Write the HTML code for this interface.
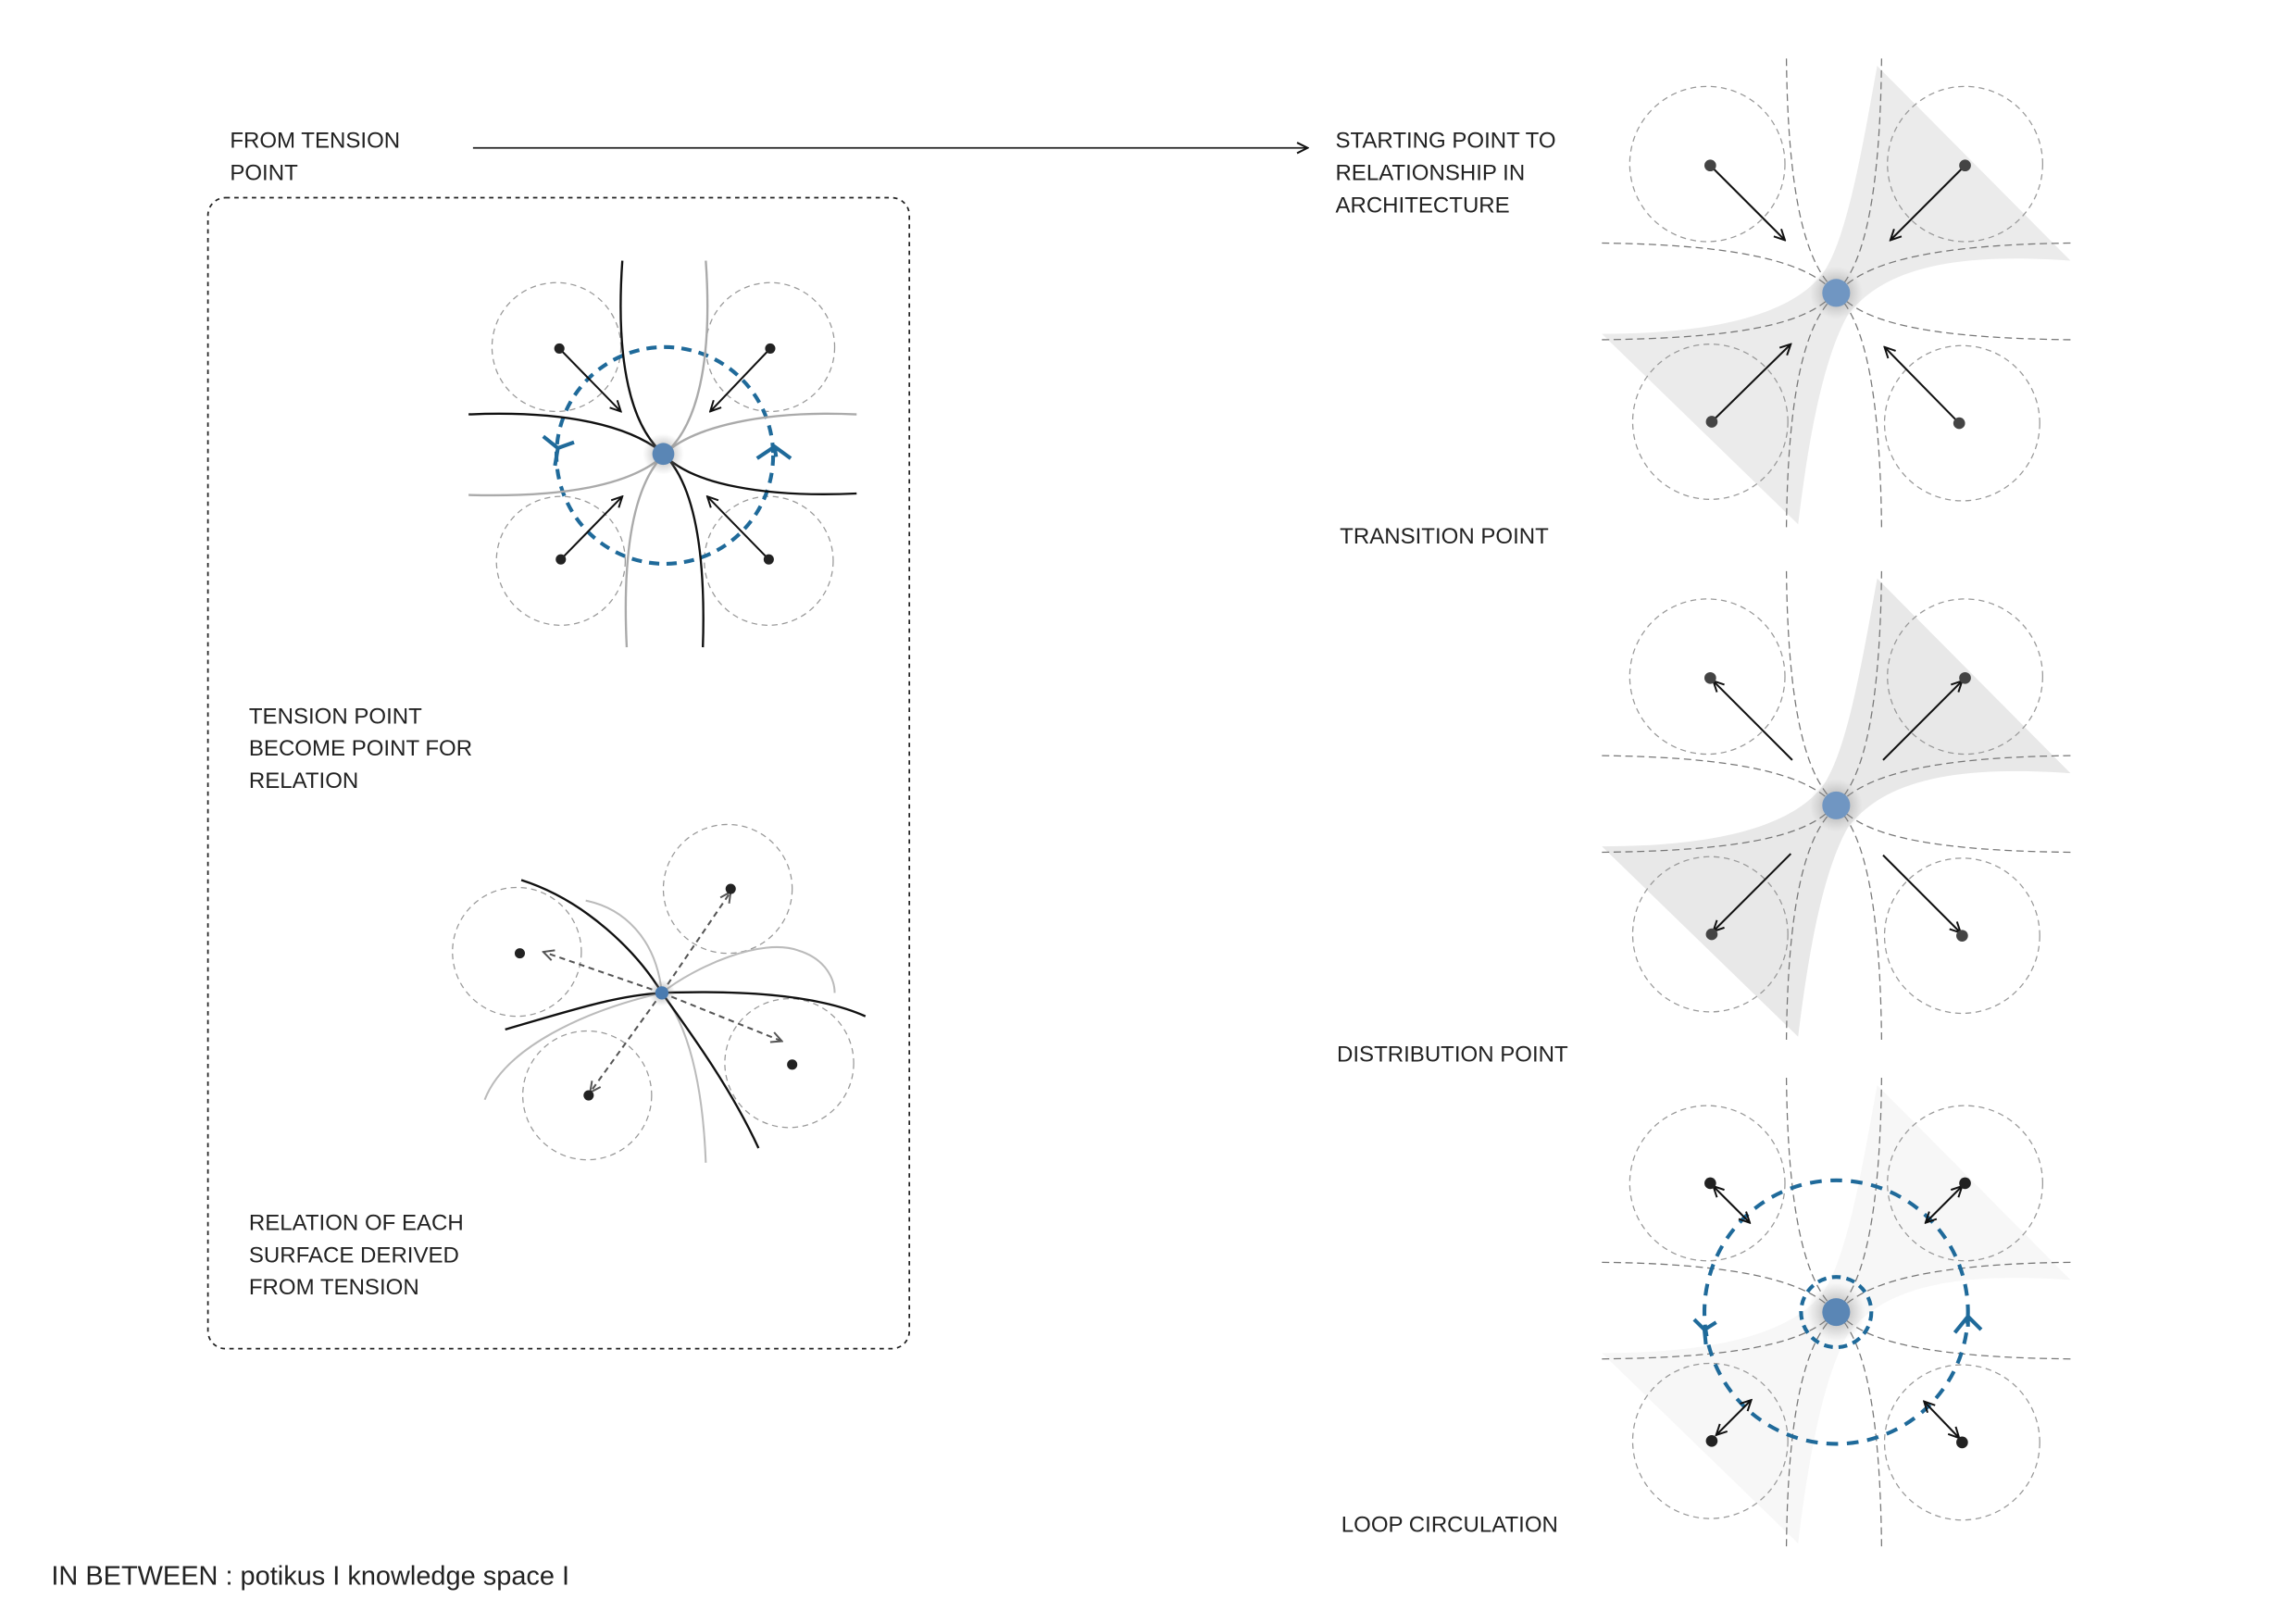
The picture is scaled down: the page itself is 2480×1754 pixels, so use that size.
<!DOCTYPE html>
<html><head><meta charset="utf-8"><style>
html,body{margin:0;padding:0;background:#fff;}
svg{display:block;}
text{font-family:"Liberation Sans",sans-serif;fill:#222;}
</style></head><body>
<svg width="2480" height="1754" viewBox="0 0 1568 1109" xmlns="http://www.w3.org/2000/svg">
<defs>
<marker id="ah" viewBox="0 0 10 10" refX="9" refY="5" markerWidth="9" markerHeight="9" markerUnits="userSpaceOnUse" orient="auto-start-reverse">
<path d="M1,1 L9,5 L1,9" fill="none" stroke="#111" stroke-width="1.4"/></marker>
<marker id="ahg" viewBox="0 0 10 10" refX="9" refY="5" markerWidth="9" markerHeight="9" markerUnits="userSpaceOnUse" orient="auto">
<path d="M1,1 L9,5 L1,9" fill="none" stroke="#555" stroke-width="1.4"/></marker>
<radialGradient id="glow"><stop offset="0" stop-color="#777" stop-opacity="0.7"/><stop offset="1" stop-color="#999" stop-opacity="0"/></radialGradient>
<g id="circ" fill="none" stroke="#999" stroke-width="0.8" stroke-dasharray="4 3">
<circle cx="-88" cy="-88" r="53"/><circle cx="88" cy="-88" r="53"/><circle cx="-86" cy="88" r="53"/><circle cx="86" cy="89" r="53"/>
</g>
<g id="dl" fill="none" stroke="#777" stroke-width="0.8" stroke-dasharray="5 3">
<path d="M-34,-160 C-33,-70 -22,-25 -4,-5"/><path d="M-34,160 C-33,70 -22,25 -4,5"/>
<path d="M31,-160 C30,-70 20,-25 4,-5"/><path d="M31,160 C30,70 20,25 4,5"/>
<path d="M-160,-34 C-70,-33 -25,-22 -5,-4"/><path d="M160,-34 C70,-33 25,-22 5,-4"/>
<path d="M-160,32 C-70,31 -25,22 -5,4"/><path d="M160,32 C70,31 25,22 5,4"/>
</g>
<path id="shape" d="M28,-155 L160,-22 C76,-28 31,-15 8,15 C-9,45 -19,100 -26,158 L-160,28 C-84,28 -29,15 -8,-15 C8,-40 18,-100 28,-155 Z"/>
</defs>

<g font-size="15.2">
<text x="157" y="101">FROM TENSION</text>
<text x="157" y="123">POINT</text>
<text x="912" y="101">STARTING POINT TO</text>
<text x="912" y="123">RELATIONSHIP IN</text>
<text x="912" y="145">ARCHITECTURE</text>
<text x="915" y="371">TRANSITION POINT</text>
<text x="913" y="725">DISTRIBUTION POINT</text>
<text x="916" y="1046">LOOP CIRCULATION</text>
<text x="170" y="494">TENSION POINT</text>
<text x="170" y="516">BECOME POINT FOR</text>
<text x="170" y="538">RELATION</text>
<text x="170" y="840">RELATION OF EACH</text>
<text x="170" y="862">SURFACE DERIVED</text>
<text x="170" y="884">FROM TENSION</text>
</g>
<line x1="323" y1="101" x2="893" y2="101" stroke="#222" stroke-width="1.1" marker-end="url(#ah)"/>
<text x="35" y="1082" font-size="18.3">IN BETWEEN : potikus I knowledge space I</text>

<rect x="142" y="135" width="479" height="786" rx="12" fill="none" stroke="#222" stroke-width="1.1" stroke-dasharray="3 3"/>

<!-- Left diagram 1 -->
<g>
<g fill="none" stroke="#999" stroke-width="0.8" stroke-dasharray="4 3">
<circle cx="380" cy="237" r="44"/><circle cx="526" cy="237" r="44"/><circle cx="383" cy="383" r="44"/><circle cx="525" cy="383" r="44"/>
</g>
<circle cx="454" cy="311" r="74" fill="none" stroke="#1f6a9a" stroke-width="2.6" stroke-dasharray="7 5"/>
<g fill="none" stroke-width="1.5">
<path d="M425,178 C420,250 432,290 451,308" stroke="#111"/>
<path d="M482,178 C487,250 475,290 456,308" stroke="#aaa"/>
<path d="M320,283 C390,280 430,292 451,308" stroke="#111"/>
<path d="M585,283 C520,280 475,292 456,308" stroke="#aaa"/>
<path d="M320,338 C390,340 430,330 451,313" stroke="#aaa"/>
<path d="M585,337 C520,340 475,330 456,313" stroke="#111"/>
<path d="M428,442 C425,380 432,335 451,313" stroke="#aaa"/>
<path d="M480,442 C482,380 475,335 456,313" stroke="#111"/>
</g>
<g stroke="#111" stroke-width="1.3">
<line x1="382" y1="238" x2="424" y2="281" marker-end="url(#ah)"/>
<line x1="526" y1="238" x2="485" y2="281" marker-end="url(#ah)"/>
<line x1="383" y1="382" x2="425" y2="339" marker-end="url(#ah)"/>
<line x1="525" y1="382" x2="483" y2="339" marker-end="url(#ah)"/>
</g>
<g fill="#222"><circle cx="382" cy="238" r="3.5"/><circle cx="526" cy="238" r="3.5"/><circle cx="383" cy="382" r="3.5"/><circle cx="525" cy="382" r="3.5"/></g>
<g fill="none" stroke="#1f6a9a" stroke-width="2.6">
<path d="M371,298 L381,306 L379,318 M381,306 L392,302"/>
<path d="M517,313 L529,305 L540,313 M529,305 L530,312"/>
</g>
<circle cx="453" cy="310" r="14" fill="url(#glow)"/>
<circle cx="453" cy="310" r="7.5" fill="#5a86b5"/>
</g>

<!-- Left diagram 2 -->
<g>
<g fill="none" stroke="#999" stroke-width="0.8" stroke-dasharray="4 3">
<circle cx="353" cy="650" r="44"/><circle cx="497" cy="607" r="44"/><circle cx="401" cy="748" r="44"/><circle cx="539" cy="726" r="44"/>
</g>
<g fill="none" stroke="#bbb" stroke-width="1.3">
<path d="M400,615 C425,620 448,640 452,678"/>
<path d="M452,678 C475,660 520,640 545,649 C565,655 570,670 570,678"/>
<path d="M331,751 C345,715 400,690 452,678"/>
<path d="M452,678 C470,700 480,740 482,794"/>
</g>
<g fill="none" stroke="#111" stroke-width="1.5">
<path d="M356,601 C400,615 435,650 452,678 C475,710 500,745 518,784"/>
<path d="M345,703 C390,690 420,680 452,678 C510,676 560,680 591,694"/>
</g>
<g stroke="#555" stroke-width="1.3" stroke-dasharray="4 3" fill="none">
<line x1="452" y1="678" x2="371" y2="650" marker-end="url(#ahg)"/>
<line x1="452" y1="678" x2="499" y2="609" marker-end="url(#ahg)"/>
<line x1="452" y1="678" x2="403" y2="746" marker-end="url(#ahg)"/>
<line x1="452" y1="678" x2="534" y2="711" marker-end="url(#ahg)"/>
</g>
<g fill="#222"><circle cx="355" cy="651" r="3.5"/><circle cx="499" cy="607" r="3.5"/><circle cx="402" cy="748" r="3.5"/><circle cx="541" cy="727" r="3.5"/></g>
<circle cx="452" cy="678" r="9" fill="url(#glow)"/>
<circle cx="452" cy="678" r="4.5" fill="#4a7bb0"/>
</g>

<!-- Right 1: transition -->
<g transform="translate(1254,200)">
<use href="#shape" fill="#ebebeb"/>
<use href="#circ"/><use href="#dl"/>
<g stroke="#111" stroke-width="1.3">
<line x1="-86" y1="-87" x2="-35" y2="-36" marker-end="url(#ah)"/>
<line x1="88" y1="-87" x2="37" y2="-36" marker-end="url(#ah)"/>
<line x1="-85" y1="88" x2="-31" y2="35" marker-end="url(#ah)"/>
<line x1="84" y1="89" x2="33" y2="37" marker-end="url(#ah)"/>
</g>
<g fill="#444"><circle cx="-86" cy="-87" r="4"/><circle cx="88" cy="-87" r="4"/><circle cx="-85" cy="88" r="4"/><circle cx="84" cy="89" r="4"/></g>
<circle r="18" fill="url(#glow)"/><circle r="9.5" fill="#7096c2"/>
</g>

<!-- Right 2: distribution -->
<g transform="translate(1254,550)">
<use href="#shape" fill="#e8e8e8"/>
<use href="#circ"/><use href="#dl"/>
<g stroke="#111" stroke-width="1.3">
<line x1="-30" y1="-31" x2="-84" y2="-85" marker-end="url(#ah)"/>
<line x1="32" y1="-31" x2="86" y2="-85" marker-end="url(#ah)"/>
<line x1="-31" y1="33" x2="-84" y2="86" marker-end="url(#ah)"/>
<line x1="32" y1="34" x2="85" y2="87" marker-end="url(#ah)"/>
</g>
<g fill="#444"><circle cx="-86" cy="-87" r="4"/><circle cx="88" cy="-87" r="4"/><circle cx="-85" cy="88" r="4"/><circle cx="86" cy="89" r="4"/></g>
<circle r="18" fill="url(#glow)"/><circle r="9.5" fill="#7096c2"/>
</g>

<!-- Right 3: loop -->
<g transform="translate(1254,896)">
<use href="#shape" fill="#f7f7f7"/>
<use href="#circ"/><use href="#dl"/>
<circle r="90" fill="none" stroke="#1f6a9a" stroke-width="2.6" stroke-dasharray="8 6"/>
<circle r="20" fill="url(#glow)"/>
<circle r="24" fill="none" stroke="#1f6a9a" stroke-width="2.6" stroke-dasharray="6 4"/>
<circle r="9.5" fill="#5a86b5"/>
<g stroke="#111" stroke-width="1.3">
<line x1="-84" y1="-86" x2="-59" y2="-61" marker-end="url(#ah)" marker-start="url(#ah)"/>
<line x1="86" y1="-86" x2="61" y2="-61" marker-end="url(#ah)" marker-start="url(#ah)"/>
<line x1="-82" y1="84" x2="-58" y2="60" marker-end="url(#ah)" marker-start="url(#ah)"/>
<line x1="84" y1="86" x2="60" y2="61" marker-end="url(#ah)" marker-start="url(#ah)"/>
</g>
<g fill="#222"><circle cx="-86" cy="-88" r="4"/><circle cx="88" cy="-88" r="4"/><circle cx="-85" cy="88" r="4"/><circle cx="86" cy="89" r="4"/></g>
<g fill="none" stroke="#1f6a9a" stroke-width="2.6">
<path d="M-97,5 L-90,12 L-89,22 M-90,12 L-82,7"/>
<path d="M81,14 L90,3 L99,12 M90,3 L90,10"/>
</g>
</g>
</svg>
</body></html>
